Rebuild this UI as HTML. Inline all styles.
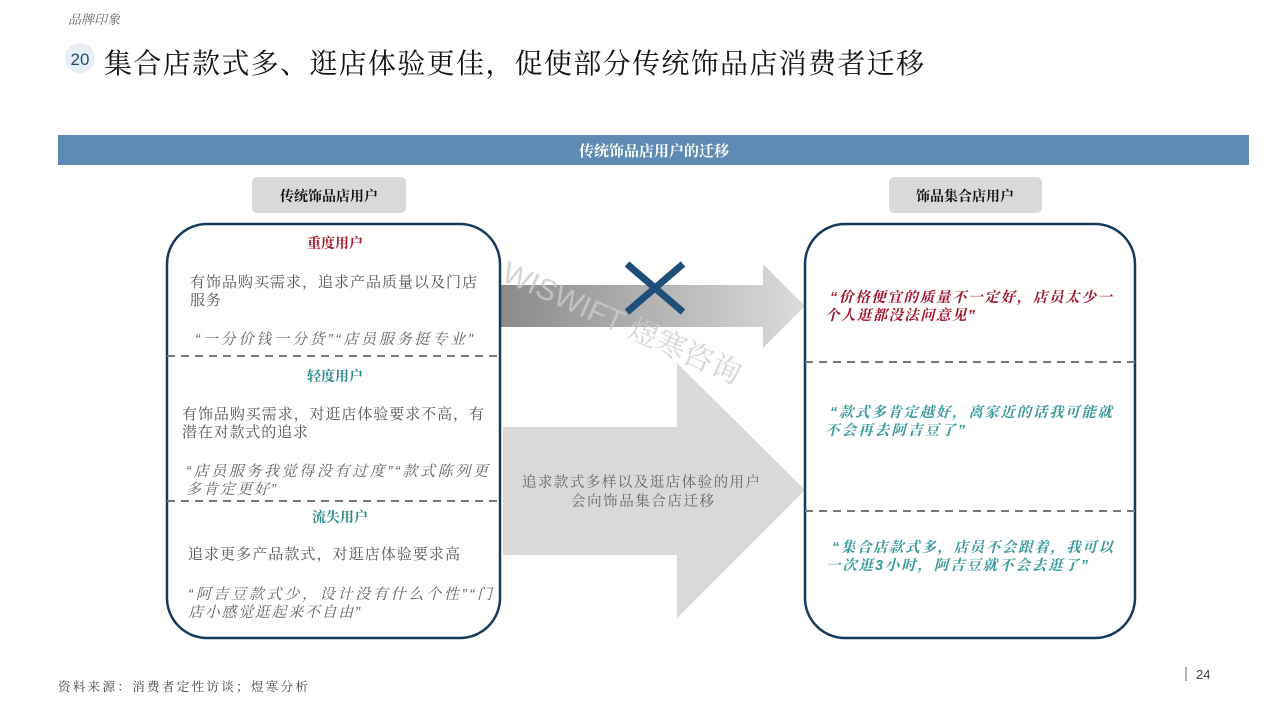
<!DOCTYPE html>
<html><head><meta charset="utf-8"><style>
body{margin:0;width:1280px;height:720px;background:#fff;overflow:hidden;font-family:"Liberation Sans","Noto Sans CJK SC",sans-serif}
svg text{font-family:"Liberation Sans","Noto Serif CJK SC","Noto Sans CJK SC",serif}
</style></head><body>
<svg width="1280" height="720" viewBox="0 0 1280 720" xmlns="http://www.w3.org/2000/svg">
<defs><linearGradient id="g" x1="0" x2="1"><stop offset="0" stop-color="#8a8a8a"/><stop offset="1" stop-color="#dcdcdc"/></linearGradient></defs>
<text x="68" y="24" font-size="13" fill="#666" font-style="italic">品牌印象</text>
<circle cx="80" cy="58" r="15" fill="#e8eef5"/>
<text x="80" y="65" font-size="17" fill="#1f4e79" text-anchor="middle">20</text>
<text x="104" y="73" font-size="28" fill="#111" textLength="820" lengthAdjust="spacing">集合店款式多、逛店体验更佳，促使部分传统饰品店消费者迁移</text>
<rect x="58" y="135" width="1191" height="30" fill="#5f8ab3"/>
<text x="654" y="156" font-size="15" fill="#fff" font-weight="bold" text-anchor="middle">传统饰品店用户的迁移</text>
<rect x="252" y="177" width="154" height="36" rx="5" fill="#d9d9d9"/>
<text x="329" y="201" font-size="14" font-weight="bold" fill="#111" text-anchor="middle">传统饰品店用户</text>
<rect x="889" y="177" width="153" height="36" rx="5" fill="#d9d9d9"/>
<text x="965" y="201" font-size="14" font-weight="bold" fill="#111" text-anchor="middle">饰品集合店用户</text>
<polygon points="500,285 763,285 763,264 805,306 763,348 763,327 500,327" fill="url(#g)"/>
<polygon points="503,427 677,427 677,363 805,490 677,618 677,555 503,555" fill="#d9d9d9"/>
<text x="522" y="487" font-size="14.5" fill="#666" textLength="238" lengthAdjust="spacing">追求款式多样以及逛店体验的用户</text>
<text x="571" y="506" font-size="14.5" fill="#666" textLength="143" lengthAdjust="spacing">会向饰品集合店迁移</text>
<path d="M627,264 L683,312 M683,264 L627,312" stroke="#1f4e79" stroke-width="7"/>
<text x="500" y="280" font-size="30" fill="#ccc" opacity="0.8" transform="rotate(24 500 280)">WISWIFT 煜寒咨询</text>
<rect x="167" y="224" width="333" height="414" rx="40" fill="none" stroke="#163a5c" stroke-width="2.5"/>
<rect x="805" y="224" width="330" height="414" rx="40" fill="none" stroke="#163a5c" stroke-width="2.5"/>
<g stroke="#777" stroke-width="2" stroke-dasharray="8,6"><line x1="167" y1="356" x2="500" y2="356"/><line x1="167" y1="501" x2="500" y2="501"/><line x1="805" y1="362" x2="1135" y2="362"/><line x1="805" y1="511" x2="1135" y2="511"/></g>
<g font-size="15" fill="#555">
<text x="335" y="248" font-weight="bold" fill="#a0172e" text-anchor="middle" font-size="14">重度用户</text>
<text x="190" y="287" textLength="287" lengthAdjust="spacing">有饰品购买需求，追求产品质量以及门店</text>
<text x="190" y="305" textLength="31" lengthAdjust="spacing">服务</text>
<text x="195" y="344" font-style="italic" fill="#666" textLength="278" lengthAdjust="spacing">“一分价钱一分货”“店员服务挺专业”</text>
<text x="335" y="381" font-weight="bold" fill="#2a8a8a" text-anchor="middle" font-size="14">轻度用户</text>
<text x="182" y="419" textLength="302" lengthAdjust="spacing">有饰品购买需求，对逛店体验要求不高，有</text>
<text x="182" y="437" textLength="126" lengthAdjust="spacing">潜在对款式的追求</text>
<text x="186" y="476" font-style="italic" fill="#666" textLength="302" lengthAdjust="spacing">“店员服务我觉得没有过度”“款式陈列更</text>
<text x="186" y="494" font-style="italic" fill="#666" textLength="90" lengthAdjust="spacing">多肯定更好”</text>
<text x="340" y="522" font-weight="bold" fill="#2a8a8a" text-anchor="middle" font-size="14">流失用户</text>
<text x="188" y="559" textLength="272" lengthAdjust="spacing">追求更多产品款式，对逛店体验要求高</text>
<text x="188" y="599" font-style="italic" fill="#666" textLength="304" lengthAdjust="spacing">“阿吉豆款式少，设计没有什么个性”“门</text>
<text x="188" y="617" font-style="italic" fill="#666" textLength="172" lengthAdjust="spacing">店小感觉逛起来不自由”</text>
</g>
<g font-size="14.5" font-style="italic" font-weight="bold">
<text x="830" y="302" fill="#a0172e" textLength="282" lengthAdjust="spacing">“价格便宜的质量不一定好，店员太少一</text>
<text x="825" y="320" fill="#a0172e" textLength="150" lengthAdjust="spacing">个人逛都没法问意见”</text>
<text x="830" y="417" fill="#3a9a9a" textLength="282" lengthAdjust="spacing">“款式多肯定越好，离家近的话我可能就</text>
<text x="825" y="435" fill="#3a9a9a" textLength="140" lengthAdjust="spacing">不会再去阿吉豆了”</text>
<text x="832" y="552" fill="#3a9a9a" textLength="281" lengthAdjust="spacing">“集合店款式多，店员不会跟着，我可以</text>
<text x="826" y="570" fill="#3a9a9a" textLength="262" lengthAdjust="spacing">一次逛3小时，阿吉豆就不会去逛了”</text>
</g>
<text x="58" y="691" font-size="12.5" fill="#444" textLength="250" lengthAdjust="spacing">资料来源：消费者定性访谈；煜寒分析</text>
<line x1="1186" y1="667" x2="1186" y2="681" stroke="#666"/>
<text x="1196" y="679" font-size="13" fill="#444">24</text>
</svg>
</body></html>
